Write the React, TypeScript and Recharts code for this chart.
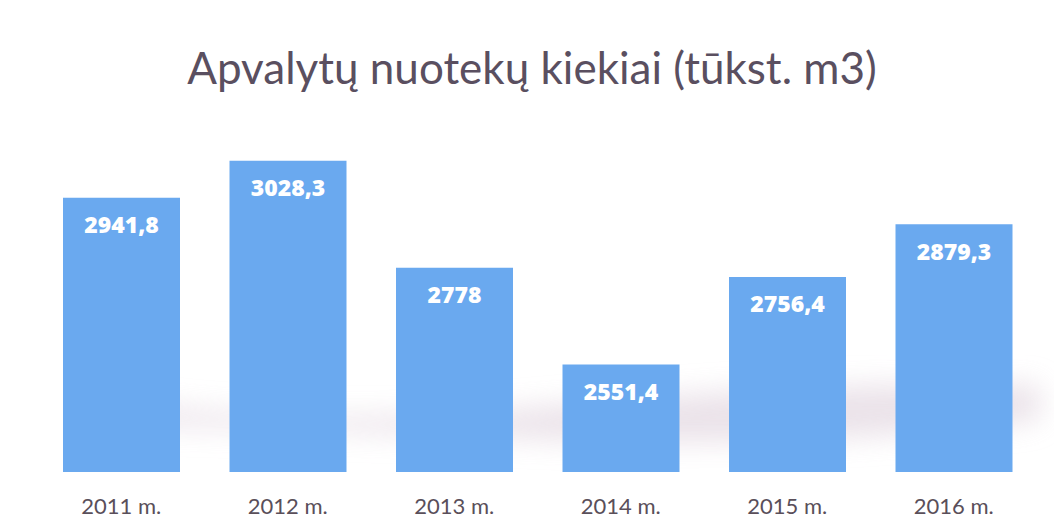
import React from "react";
import { BarChart, Bar, XAxis, YAxis, LabelList } from "recharts";

const categories = ["2011 m.", "2012 m.", "2013 m.", "2014 m.", "2015 m.", "2016 m."];
const values = [2941.8, 3028.3, 2778, 2551.4, 2756.4, 2879.3];
const title = "Apvalytų nuotekų kiekiai (tūkst. m3)";

const data = categories.map((c, i) => ({ name: c, value: values[i] }));

const fmt = (v: any) => String(v).replace(".", ",");

export default function App() {
  return (
    <div style={{ position: "absolute", left: 0, top: 0, width: 1054, height: 527, background: "#ffffff", overflow: "hidden" }}>
      <svg width={1054} height={527} style={{ position: "absolute", left: 0, top: 0 }}>
        <defs>
          <filter id="blur" x="-10%" y="-50%" width="120%" height="200%">
            <feGaussianBlur stdDeviation="14" />
          </filter>
        </defs>
        <path
          d="M 120 400 Q 300 430 560 405 T 1040 385 L 1040 420 Q 800 450 560 440 T 120 425 Z"
          fill="#e4d9e2"
          opacity={0.75}
          filter="url(#blur)"
        />
      </svg>
      <div
        style={{
          position: "absolute",
          left: 0,
          top: 45,
          width: 1064,
          textAlign: "center",
          fontFamily: "Lato, 'Open Sans', sans-serif",
          fontSize: 44,
          color: "#5a4f60",
          lineHeight: "44px",
          whiteSpace: "nowrap",
        }}
      >
        {title}
      </div>
      <div style={{ position: "absolute", left: 0, top: 0 }}>
        <BarChart
          width={1054}
          height={527}
          data={data}
          margin={{ top: 130, right: 17, left: 38, bottom: 15 }}
          barSize={117}
        >
          <YAxis hide domain={[2300, 3100]} />
          <XAxis
            dataKey="name"
            height={40}
            axisLine={false}
            tickLine={false}
            tickMargin={20}
            tick={{ fill: "#5a4f5a", fontSize: 22, fontFamily: "Lato, 'Open Sans', sans-serif" }}
            interval={0}
          />
          <Bar dataKey="value" fill="#6aa9ef" isAnimationActive={false}>
            <LabelList
              dataKey="value"
              position="insideTop"
              offset={19}
              formatter={fmt}
              style={{ fill: "#ffffff", fontSize: 23, fontWeight: 800, fontFamily: "'Open Sans', sans-serif" }}
            />
          </Bar>
        </BarChart>
      </div>
    </div>
  );
}
